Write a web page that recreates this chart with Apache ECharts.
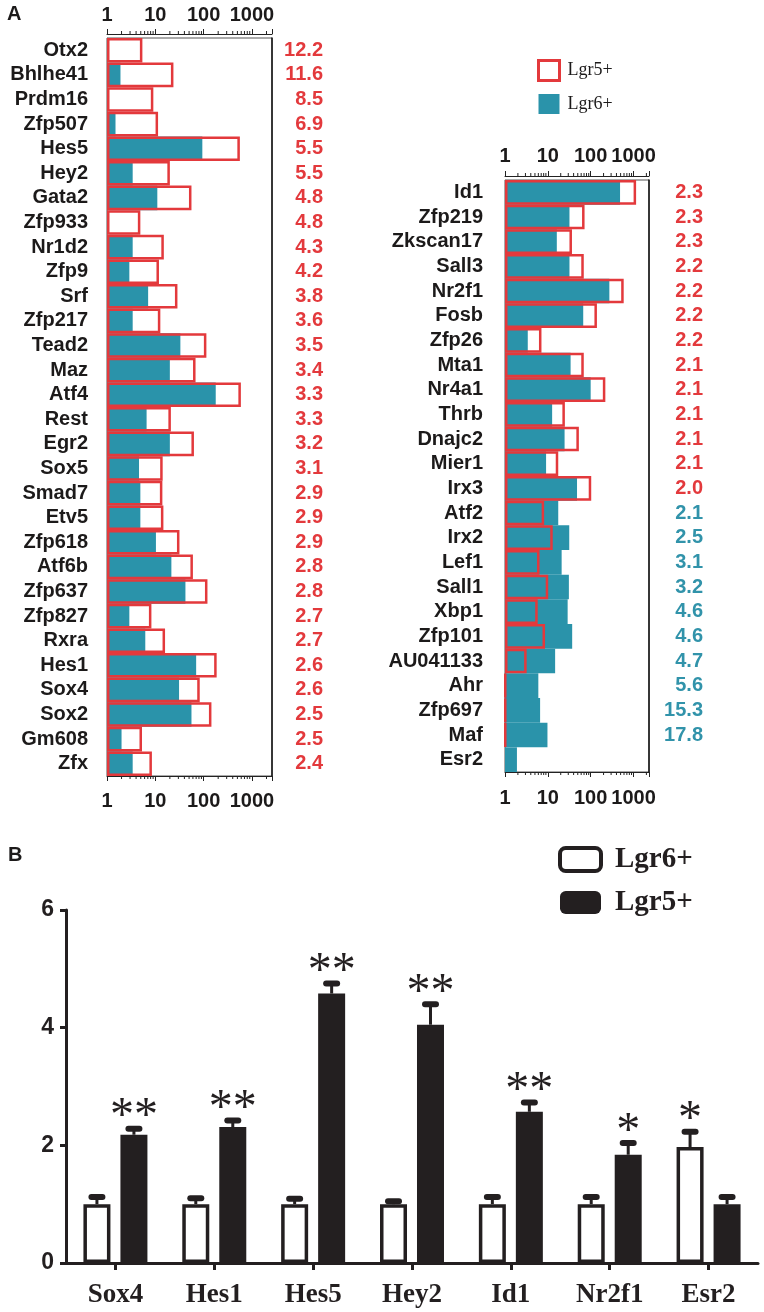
<!DOCTYPE html>
<html><head><meta charset="utf-8">
<script src="https://cdn.jsdelivr.net/npm/echarts@6/dist/echarts.min.js"></script>
<style>html,body{margin:0;padding:0;background:#fff}#c{width:764px;height:1312px}</style>
</head><body><div id="c"></div>
<script>
// ---------- Panel A, left column ----------
const genesL = ['Otx2','Bhlhe41','Prdm16','Zfp507','Hes5','Hey2','Gata2','Zfp933','Nr1d2','Zfp9','Srf','Zfp217','Tead2','Maz','Atf4','Rest','Egr2','Sox5','Smad7','Etv5','Zfp618','Atf6b','Zfp637','Zfp827','Rxra','Hes1','Sox4','Sox2','Gm608','Zfx'];
const lgr5L = [5.4,23.7,9.1,11.4,562,20,56,4.9,15,11.9,28.7,12.7,114,68,590,21,63,14.2,14,14.7,31.6,60,120,8.3,15.9,186,83,145,5.3,8.5];
const lgr6L = ['-',1.9,'-',1.5,94,3.4,11,'-',3.4,2.9,7.1,3.4,33,20,178,6.6,20,4.6,4.9,4.9,10.3,21.5,42,2.9,6.2,70,31,56,2.0,3.4];
const ratioL = ['12.2','11.6','8.5','6.9','5.5','5.5','4.8','4.8','4.3','4.2','3.8','3.6','3.5','3.4','3.3','3.3','3.2','3.1','2.9','2.9','2.9','2.8','2.8','2.7','2.7','2.6','2.6','2.5','2.5','2.4'];
// ---------- Panel A, right column ----------
const genesR = ['Id1','Zfp219','Zkscan17','Sall3','Nr2f1','Fosb','Zfp26','Mta1','Nr4a1','Thrb','Dnajc2','Mier1','Irx3','Atf2','Irx2','Lef1','Sall1','Xbp1','Zfp101','AU041133','Ahr','Zfp697','Maf','Esr2'];
const lgr5R = [1150,72,36.6,69,590,140,7.1,69,220,25,53,17.5,103,8.2,13,6.4,10.2,5.8,8.6,3.2,1.03,1.03,1.03,'-'];
const lgr6R = [485,32,16.2,32,273,67,3.4,34,100,12.6,24.6,9.1,48,17.5,31.6,21,31,29,37,14.8,6.0,6.6,9.8,1.9];
const ratioR = ['2.3','2.3','2.3','2.2','2.2','2.2','2.2','2.1','2.1','2.1','2.1','2.1','2.0','2.1','2.5','3.1','3.2','4.6','4.6','4.7','5.6','15.3','17.8',''];
const ratioRUp = 13; // first 13 ratios are Lgr5+-enriched (red), rest Lgr6+-enriched (teal)
const logTicks = [1,10,100,1000];
// ---------- Panel B ----------
const catsB = ['Sox4','Hes1','Hes5','Hey2','Id1','Nr2f1','Esr2'];
const lgr6B = [1,1,1,1,1,1,1.97];
const lgr6BErr = [0.12,0.1,0.09,0.05,0.12,0.12,0.26];
const lgr5B = [2.18,2.31,4.58,4.05,2.57,1.84,1.0];
const lgr5BErr = [0.1,0.11,0.17,0.35,0.16,0.2,0.12];
const sig6B = ['','','','','','','*'];
const sig5B = ['**','**','**','**','**','*',''];
const yTicksB = [0,2,4,6];

const RED = '#e3393c', TEAL = '#2a93aa', TEAL_TXT = '#3193aa', INK = '#1c1a1a', BLK = '#231f20';
const SANS = '"Liberation Sans", Arial, sans-serif';
const SERIF = '"Liberation Serif", "Times New Roman", serif';

function minorVals(max){ const a=[]; for(let p=1;p<=1000;p*=10){ for(let k=2;k<=9;k++){ if(k*p<max) a.push(k*p);} } return a; }
const maxL = 2600, maxR = 2300;

function logAxis(grid, pos, max, offset, margin){
  return {type:'log', gridIndex:grid, position:pos, min:1, max:max, logBase:10, offset:offset,
    axisLine:{show:true, lineStyle:{color:'#222', width:1}},
    axisTick:{show:true, length:5, lineStyle:{color:'#222', width:1}},
    splitLine:{show:false},
    axisLabel:{margin:margin, color:INK, fontFamily:SANS, fontWeight:'bold', fontSize:20,
      formatter: v => (logTicks.indexOf(Math.round(v))>=0 && Math.abs(v-Math.round(v))<1e-6) ? String(Math.round(v)) : ''}};
}
function minorSeries(xi, yi, max, off){
  return {type:'custom', xAxisIndex:xi, yAxisIndex:yi, silent:true, clip:false, z:5,
    data: minorVals(max).map(v=>[v,0]),
    renderItem(params, api){
      const x = api.coord([api.value(0), 0])[0]; const cs = params.coordSys;
      return {type:'group', children:[
        {type:'line', shape:{x1:x,y1:cs.y-off,x2:x,y2:cs.y-off-3}, style:{stroke:'#222', lineWidth:1}},
        {type:'line', shape:{x1:x,y1:cs.y+cs.height,x2:x,y2:cs.y+cs.height+3}, style:{stroke:'#222', lineWidth:1}}
      ]};
    }};
}
function geneAxis(grid, data, margin){
  return {type:'category', gridIndex:grid, data:data, inverse:true, position:'left',
    axisLine:{show:true, lineStyle:{color:'#9a9a9a', width:1}}, axisTick:{show:false},
    axisLabel:{interval:0, margin:margin, color:INK, fontFamily:SANS, fontWeight:'bold', fontSize:20}};
}
function ratioAxis(grid, data, margin, fmt){
  return {type:'category', gridIndex:grid, data:data, inverse:true, position:'right',
    axisLine:{show:true, lineStyle:{color:'#111', width:1.5}}, axisTick:{show:false},
    axisLabel:{interval:0, margin:margin, align:'right', fontFamily:SANS, fontWeight:'bold', fontSize:20,
      formatter: fmt,
      rich:{r:{color:RED, fontFamily:SANS, fontWeight:'bold', fontSize:20}, t:{color:TEAL_TXT, fontFamily:SANS, fontWeight:'bold', fontSize:20}}}};
}

function errSeries(vals, errs, sigs, offset){
  return {type:'custom', xAxisIndex:4, yAxisIndex:4, silent:true, z:6, clip:false,
    data: vals.map((v,i)=>[i, v, errs[i]]),
    renderItem(params, api){
      const i = api.value(0), v = api.value(1), e = api.value(2);
      const p0 = api.coord([i, v]); const p1 = api.coord([i, v+e]);
      const x = p0[0] + offset;
      const ch = [
        {type:'line', shape:{x1:x, y1:p0[1], x2:x, y2:p1[1]}, style:{stroke:BLK, lineWidth:3}},
        {type:'rect', shape:{x:x-8.5, y:p1[1]-3, width:17, height:6, r:3}, style:{fill:BLK}}
      ];
      const s = sigs[params.dataIndex];
      if (s) ch.push({type:'text', x:x, y:p1[1]-11, style:{text:s, fill:BLK, font:'48px '+SERIF, align:'center', verticalAlign:'middle'}});
      return {type:'group', children:ch};
    }};
}

const option = {
  animation:false,
  backgroundColor:'#fff',
  grid:[
    {left:107, top:38, width:165, height:738, show:true, borderColor:'#555', borderWidth:1},
    {left:505, top:180, width:144, height:592, show:true, borderColor:'#555', borderWidth:1},
    {left:66, top:910, width:692, height:353}
  ],
  xAxis:[
    logAxis(0,'top',maxL,4,9),
    logAxis(0,'bottom',maxL,0,15),
    logAxis(1,'top',maxR,4,10),
    logAxis(1,'bottom',maxR,0,16),
    {type:'category', gridIndex:2, data:catsB, position:'bottom',
      axisLine:{show:true, lineStyle:{color:BLK, width:3}},
      axisTick:{show:true, length:7, alignWithLabel:true, lineStyle:{color:BLK, width:3}},
      axisLabel:{margin:19, color:BLK, fontFamily:SERIF, fontWeight:'bold', fontSize:27}}
  ],
  yAxis:[
    geneAxis(0, genesL, 19),
    ratioAxis(0, genesL, 51, (v,i)=>'{r|'+ratioL[i]+'}'),
    geneAxis(1, genesR, 22),
    ratioAxis(1, genesR, 54, (v,i)=> ratioR[i] ? (i<ratioRUp ? '{r|'+ratioR[i]+'}' : '{t|'+ratioR[i]+'}') : ''),
    {type:'value', gridIndex:2, min:0, max:6, interval:2, position:'left',
      axisLine:{show:true, lineStyle:{color:BLK, width:3}},
      axisTick:{show:true, length:6, lineStyle:{color:BLK, width:3}},
      splitLine:{show:false},
      axisLabel:{margin:12, color:BLK, fontFamily:'"Liberation Sans Narrow", "Liberation Sans", sans-serif', fontWeight:'bold', fontSize:23,
        formatter: v => yTicksB.indexOf(v)>=0 ? String(v) : ''}}
  ],
  legend:[
    {left:532, top:54, orient:'vertical', itemWidth:21, itemHeight:20, itemGap:12, selectedMode:false,
      textStyle:{fontFamily:SERIF, fontSize:18, color:INK, padding:[0,0,0,3]},
      data:[{name:'Lgr5+', icon:'rect', itemStyle:{color:'#fff', borderColor:RED, borderWidth:3}},
            {name:'Lgr6+', icon:'rect', itemStyle:{color:TEAL, borderWidth:0}}]},
    {left:553, top:840, orient:'vertical', itemWidth:41, itemHeight:23, itemGap:14, selectedMode:false,
      textStyle:{fontFamily:SERIF, fontSize:29, fontWeight:'bold', color:BLK, padding:[0,0,0,9]},
      data:[{name:'Lgr6+', icon:'roundRect', itemStyle:{color:'#fff', borderColor:BLK, borderWidth:4}},
            {name:'Lgr5+', icon:'roundRect', itemStyle:{color:BLK, borderWidth:0}}]}
  ],
  graphic:[
    {type:'text', left:7, top:4, style:{text:'A', font:'bold 20px '+SANS, fill:INK}},
    {type:'text', left:8, top:845, style:{text:'B', font:'bold 20px '+SANS, fill:INK}}
  ],
  series:[
    {name:'Lgr6+', type:'bar', xAxisIndex:1, yAxisIndex:0, data:lgr6L, barCategoryGap:'0%', barGap:'-100%',
      itemStyle:{color:TEAL}, z:2},
    {name:'Lgr5+', type:'bar', xAxisIndex:1, yAxisIndex:0, data:lgr5L, barCategoryGap:'0%', barGap:'-100%',
      itemStyle:{color:'rgba(0,0,0,0)', borderColor:RED, borderWidth:2.5}, z:3},
    {name:'Lgr6+', type:'bar', xAxisIndex:3, yAxisIndex:2, data:lgr6R, barCategoryGap:'0%', barGap:'-100%',
      itemStyle:{color:TEAL}, z:2},
    {name:'Lgr5+', type:'bar', xAxisIndex:3, yAxisIndex:2, data:lgr5R, barCategoryGap:'0%', barGap:'-100%',
      itemStyle:{color:'rgba(0,0,0,0)', borderColor:RED, borderWidth:2.5}, z:3},
    minorSeries(0,0,maxL,4),
    minorSeries(2,2,maxR,4),
    {name:'Lgr6+', type:'bar', xAxisIndex:4, yAxisIndex:4, data:lgr6B, barWidth:27, barGap:'37%',
      itemStyle:{color:'#fff', borderColor:BLK, borderWidth:3.5}, z:3},
    {name:'Lgr5+', type:'bar', xAxisIndex:4, yAxisIndex:4, data:lgr5B, barWidth:27, barGap:'37%',
      itemStyle:{color:BLK}, z:3},
    errSeries(lgr6B, lgr6BErr, sig6B, -18.5),
    errSeries(lgr5B, lgr5BErr, sig5B, 18.5)
  ]
};
const chart = echarts.init(document.getElementById('c'), null, {renderer:'canvas'});
chart.setOption(option);
</script></body></html>
